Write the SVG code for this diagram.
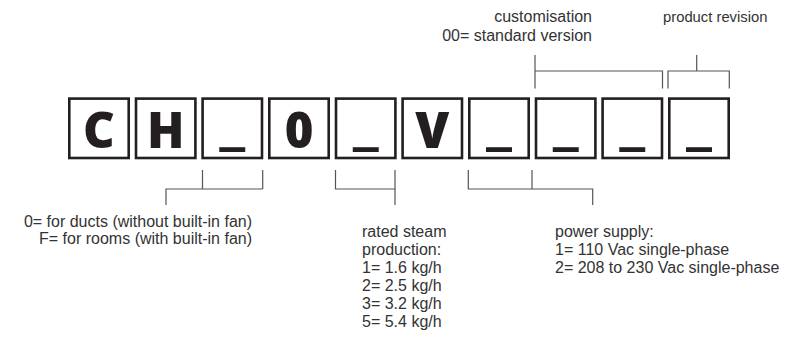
<svg xmlns="http://www.w3.org/2000/svg" width="785" height="349" viewBox="0 0 785 349">
<style>
.box{fill:#fff;stroke:#231f20;stroke-width:2.6}
.big{font-family:"Open Sans","Liberation Sans",sans-serif;font-weight:800;font-size:49px;fill:#231f20;text-anchor:middle}
.us{font-family:"DejaVu Sans",sans-serif;font-weight:bold;font-size:52px;fill:#231f20;text-anchor:middle}
.lbl{font-family:"Liberation Sans",Arial,sans-serif;font-size:16px;fill:#333}
.end{text-anchor:end}
.ln{fill:none;stroke:#555;stroke-width:1.2}
</style>
<g id="b1"><rect class="box" x="69.3" y="98.6" width="59.4" height="59.4"/><text class="big" x="99" y="148">C</text></g>
<g id="b2"><rect class="box" x="136" y="98.6" width="59.4" height="59.4"/><text class="big" x="165.7" y="148">H</text></g>
<g id="b3"><rect class="box" x="202.6" y="98.6" width="59.4" height="59.4"/><text class="us" x="232.3" y="140.4">_</text></g>
<g id="b4"><rect class="box" x="269.3" y="98.6" width="59.4" height="59.4"/><text class="big" x="299" y="148">0</text></g>
<g id="b5"><rect class="box" x="336" y="98.6" width="59.4" height="59.4"/><text class="us" x="365.7" y="140.4">_</text></g>
<g id="b6"><rect class="box" x="402.6" y="98.6" width="59.4" height="59.4"/><text class="big" x="432.3" y="148">V</text></g>
<g id="b7"><rect class="box" x="469.3" y="98.6" width="59.4" height="59.4"/><text class="us" x="499" y="140.4">_</text></g>
<g id="b8"><rect class="box" x="536" y="98.6" width="59.4" height="59.4"/><text class="us" x="565.7" y="140.4">_</text></g>
<g id="b9"><rect class="box" x="602.6" y="98.6" width="59.4" height="59.4"/><text class="us" x="632.3" y="140.4">_</text></g>
<g id="b10"><rect class="box" x="669.3" y="98.6" width="59.4" height="59.4"/><text class="us" x="699" y="140.4">_</text></g>
<g id="connectors">
<path class="ln" d="M202.5 170V189M262.7 170V189M166 205V189H262.7"/>
<path class="ln" d="M335.5 170V189H395M395 170V205"/>
<path class="ln" d="M468.3 170V189H592.7V205M532 170V189"/>
<path class="ln" d="M535 55V88.5M535 71H662.5V88.5"/>
<path class="ln" d="M668 88.5V71H729.3V88.5M696.7 55V71"/>
</g>
<g id="labels">
<text class="lbl end" x="592" y="22">customisation</text>
<text class="lbl end" x="592" y="41">00= standard version</text>
<text class="lbl" x="663" y="22" style="font-size:14.8px">product revision</text>
<text class="lbl end" x="252" y="227">0= for ducts (without built-in fan)</text>
<text class="lbl end" x="252" y="244">F= for rooms (with built-in fan)</text>
<text class="lbl" x="362" y="236.5">rated steam</text>
<text class="lbl" x="362" y="254.5">production:</text>
<text class="lbl" x="362" y="272.5">1= 1.6 kg/h</text>
<text class="lbl" x="362" y="290.5">2= 2.5 kg/h</text>
<text class="lbl" x="362" y="308.5">3= 3.2 kg/h</text>
<text class="lbl" x="362" y="326.5">5= 5.4 kg/h</text>
<text class="lbl" x="555" y="236.5">power supply:</text>
<text class="lbl" x="555" y="254.5">1= 110 Vac single-phase</text>
<text class="lbl" x="555" y="272.5">2= 208 to 230 Vac single-phase</text>
</g>
</svg>
